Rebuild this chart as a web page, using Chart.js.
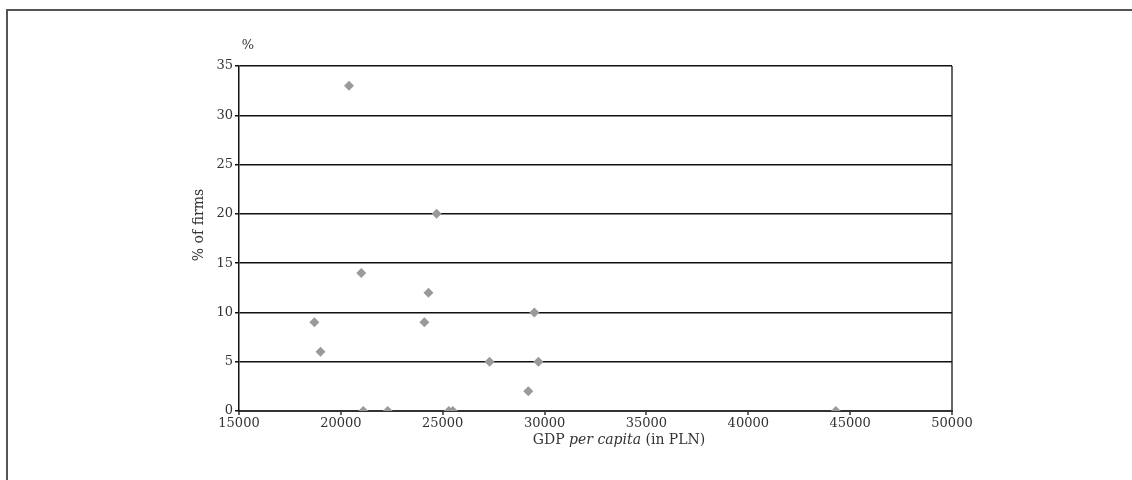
<!DOCTYPE html>
<html>
<head>
<meta charset="utf-8">
<script src="https://cdn.jsdelivr.net/npm/chart.js@4"></script>
<style>
body{margin:0;background:#fff}
#wrap{position:relative;width:1132px;height:480px;overflow:hidden}
#frame{position:absolute;left:6px;top:9px;width:1200px;height:600px;border-top:2px solid #555;border-left:2px solid #555}
#c{position:absolute;left:0;top:0}
</style>
</head>
<body>
<div id="wrap">
<div id="frame"></div>
<canvas id="c" width="1132" height="480"></canvas>
</div>
<script>
// GDP per capita (PLN) and share of firms (%)
const gdp = [18700, 19000, 20400, 21000, 21100, 22300, 24100, 24300, 24700, 25300, 25500, 27300, 29200, 29500, 29700, 44300]
const firms = [9, 6, 33, 14, 0, 0, 9, 12, 20, 0, 0, 5, 2, 10, 5, 0]

const xTicks = [15000, 20000, 25000, 30000, 35000, 40000, 45000, 50000]
const yTicks = [0, 5, 10, 15, 20, 25, 30, 35]

const FONT = "DejaVu Serif"

const points = gdp.map((g,i)=>({x:g, y:firms[i]}))

// axis titles (x title has italic part)
const titles = {
id:"titles",
afterDraw(chart){
const c = chart.ctx
c.save()
c.fillStyle = "#333"
c.textBaseline = "middle"

c.font = "13px '"+FONT+"'"
c.textAlign = "center"
c.fillText("%", 248, 46)

// y title
c.save()
c.translate(199, 225)
c.rotate(-Math.PI/2)
c.font = "14px '"+FONT+"'"
c.fillText("% of firms", 0, 0)
c.restore()

// x title
const parts = [["GDP ", "normal"], ["per capita", "italic"], [" (in PLN)", "normal"]]
let w = 0
parts.forEach(p=>{
c.font = p[1]+" 14px '"+FONT+"'"
w += c.measureText(p[0]).width
})
let x = 619 - w/2
c.textAlign = "left"
parts.forEach(p=>{
c.font = p[1]+" 14px '"+FONT+"'"
c.fillText(p[0], x, 440)
x += c.measureText(p[0]).width
})
c.restore()
}
}

new Chart(document.getElementById("c"), {
type:"scatter",
data:{
datasets:[{
data:points,
pointStyle:"rectRot",
radius:5,
hoverRadius:5,
backgroundColor:"#9a9a9a",
borderColor:"#9a9a9a",
borderWidth:0
}]
},
options:{
responsive:false,
animation:false,
layout:{padding:{left:0, top:66, right:180, bottom:0}},
plugins:{legend:{display:false}, tooltip:{enabled:false}},
scales:{
x:{
type:"linear",
min:xTicks[0],
max:xTicks[xTicks.length-1],
afterBuildTicks:s=>{ s.ticks = xTicks.map(v=>({value:v})) },
afterFit:s=>{ s.height = 69 },
ticks:{color:"#333", font:{family:FONT, size:13}, padding:1, maxRotation:0, callback:v=>String(v)},
grid:{
drawOnChartArea:true,
color:ctx=>(ctx.tick && ctx.tick.value===50000) ? "#666" : "rgba(0,0,0,0)",
lineWidth:2,
tickColor:"#333",
tickLength:4,
tickWidth:1.5
},
border:{color:"#333", width:2}
},
y:{
min:yTicks[0],
max:yTicks[yTicks.length-1],
afterBuildTicks:s=>{ s.ticks = yTicks.map(v=>({value:v})) },
afterFit:s=>{ s.width = 239 },
ticks:{color:"#333", font:{family:FONT, size:13}, padding:2, callback:v=>String(v)},
grid:{color:"#111", lineWidth:1.5, tickLength:4, tickColor:"#111"},
border:{color:"#111", width:1.5}
}
}
},
plugins:[titles]
})
</script>
</body>
</html>
